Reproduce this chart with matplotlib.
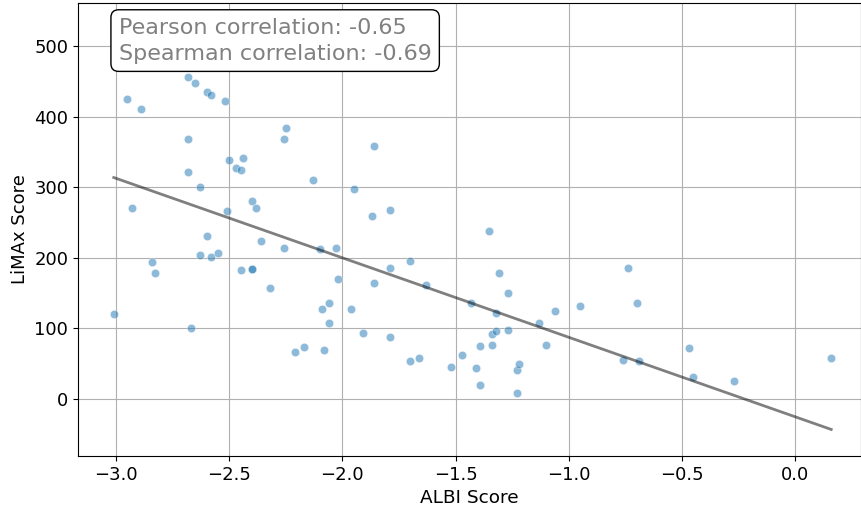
import numpy as np
import matplotlib
matplotlib.use("Agg")
import matplotlib.pyplot as plt

albi = [-3.01, -2.95, -2.93, -2.89, -2.84, -2.83, -2.68, -2.68, -2.68, -2.67,
        -2.65, -2.63, -2.63, -2.60, -2.60, -2.58, -2.58, -2.55, -2.52, -2.51,
        -2.50, -2.47, -2.45, -2.44, -2.45, -2.40, -2.40, -2.40, -2.38, -2.36,
        -2.32, -2.26, -2.25, -2.26, -2.21, -2.17, -2.13, -2.10, -2.09, -2.08,
        -2.06, -2.06, -2.03, -2.02, -1.96, -1.95, -1.91, -1.87, -1.86, -1.86,
        -1.79, -1.79, -1.79, -1.70, -1.70, -1.66, -1.63, -1.52, -1.47, -1.43,
        -1.41, -1.39, -1.39, -1.35, -1.34, -1.34, -1.32, -1.32, -1.31, -1.27,
        -1.27, -1.23, -1.23, -1.22, -1.13, -1.10, -1.06, -0.95, -0.76, -0.74,
        -0.70, -0.69, -0.47, -0.45, -0.27, 0.16]
limax = [120, 425, 270, 411, 194, 178, 456, 368, 322, 100,
         447, 300, 204, 435, 231, 201, 430, 207, 422, 266,
         339, 327, 324, 341, 183, 280, 184, 184, 270, 224,
         157, 368, 384, 214, 67, 74, 310, 212, 127, 69,
         136, 108, 214, 170, 127, 297, 93, 259, 358, 164,
         268, 186, 88, 54, 195, 58, 161, 45, 62, 136,
         44, 75, 20, 238, 76, 92, 122, 96, 178, 150,
         98, 41, 8, 50, 108, 76, 125, 132, 55, 186,
         136, 54, 72, 31, 25, 58]

x = np.array(albi)
y = np.array(limax)

fig = plt.figure(figsize=(8.61, 5.08), dpi=100)
ax = fig.add_axes([0.0906, 0.1024, 0.909, 0.8916])
ax.set_axisbelow(True)
ax.grid(True, color="#b0b0b0", linewidth=0.8)
ax.scatter(x, y, s=36, color="#1f77b4", alpha=0.5, edgecolors="white", linewidths=0.5, zorder=2)
m, b = np.polyfit(x, y, 1)
xl = np.array([x.min(), x.max()])
ax.plot(xl, m * xl + b, color="black", alpha=0.5, linewidth=2, zorder=3)

ax.set_xlim(-3.168, 0.29)
ax.set_ylim(-81, 561)
ax.set_xticks([-3.0, -2.5, -2.0, -1.5, -1.0, -0.5, 0.0])
ax.set_yticks([0, 100, 200, 300, 400, 500])
ax.tick_params(labelsize=13)
ax.set_xlabel("ALBI Score", fontsize=13.3)
ax.set_ylabel("LiMAx Score", fontsize=13)
ax.text(0.052, 0.968, "Pearson correlation: -0.65\nSpearman correlation: -0.69",
        transform=ax.transAxes, fontsize=16, color="gray", va="top", ha="left",
        linespacing=1.38,
        bbox=dict(boxstyle="round,pad=0.35", facecolor="white", edgecolor="black"))
fig.savefig("out.png", dpi=100)
